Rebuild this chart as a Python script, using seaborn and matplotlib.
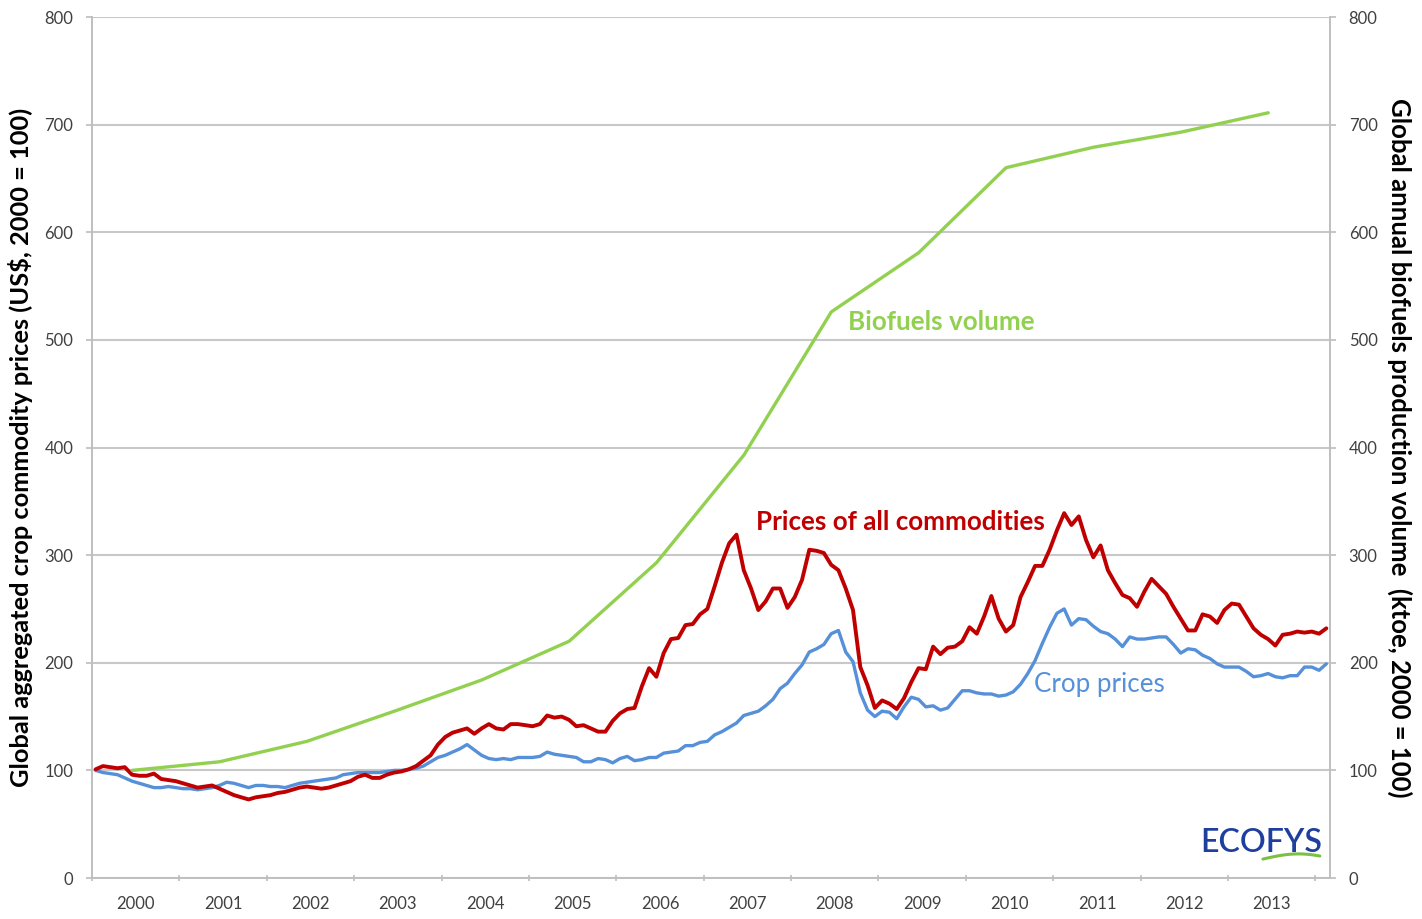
import numpy as np
import pandas as pd
import matplotlib
matplotlib.use("Agg")
import matplotlib.pyplot as plt
import seaborn as sns

# ---------------------------------------------------------
# data, monthly Jan 2000 - Feb 2014
# ---------------------------------------------------------
all_commodities = [
    101, 104, 103, 102, 103, 96, 95, 95, 97, 92, 91, 90,          # 2000
    88, 86, 84, 85, 86, 83, 80, 77, 75, 73, 75, 76,                # 2001
    77, 79, 80, 82, 84, 85, 84, 83, 84, 86, 88, 90,                # 2002
    94, 96, 93, 93, 96, 98, 99, 101, 104, 109, 114, 124,           # 2003
    131, 135, 137, 139, 134, 139, 143, 139, 138, 143, 143, 142,    # 2004
    141, 143, 151, 149, 150, 147, 141, 142, 139, 136, 136, 146,    # 2005
    153, 157, 158, 178, 195, 187, 209, 222, 223, 235, 236, 245,    # 2006
    250, 271, 293, 311, 319, 286, 269, 249, 257, 269, 269, 251,    # 2007
    261, 277, 305, 304, 302, 291, 286, 269, 249, 196, 179, 158,    # 2008
    165, 162, 157, 167, 182, 195, 194, 215, 208, 214, 215, 220,    # 2009
    233, 227, 243, 262, 241, 229, 235, 261, 275, 290, 290, 305,    # 2010
    323, 339, 328, 336, 314, 298, 309, 286, 274, 263, 260, 252,    # 2011
    266, 278, 271, 264, 252, 241, 230, 230, 245, 243, 237, 249,    # 2012
    255, 254, 243, 232, 226, 222, 216, 226, 227, 229, 228, 229,    # 2013
    227, 232,                                                      # 2014
]
crop_prices = [
    100, 98, 97, 96, 93, 90, 88, 86, 84, 84, 85, 84,               # 2000
    83, 83, 82, 83, 84, 86, 89, 88, 86, 84, 86, 86,                # 2001
    85, 85, 84, 86, 88, 89, 90, 91, 92, 93, 96, 97,                # 2002
    98, 98, 98, 98, 99, 100, 100, 101, 102, 104, 108, 112,         # 2003
    114, 117, 120, 124, 119, 114, 111, 110, 111, 110, 112, 112,    # 2004
    112, 113, 117, 115, 114, 113, 112, 108, 108, 111, 110, 107,    # 2005
    111, 113, 109, 110, 112, 112, 116, 117, 118, 123, 123, 126,    # 2006
    127, 133, 136, 140, 144, 151, 153, 155, 160, 166, 176, 181,    # 2007
    190, 198, 210, 213, 217, 227, 230, 210, 201, 172, 156, 150,    # 2008
    155, 154, 148, 159, 168, 166, 159, 160, 156, 158, 166, 174,    # 2009
    174, 172, 171, 171, 169, 170, 173, 180, 190, 202, 218, 233,    # 2010
    246, 250, 235, 241, 240, 234, 229, 227, 222, 215, 224, 222,    # 2011
    222, 223, 224, 224, 217, 209, 213, 212, 207, 204, 199, 196,    # 2012
    196, 196, 192, 187, 188, 190, 187, 186, 188, 188, 196, 196,    # 2013
    193, 199,                                                      # 2014
]
biofuel_years = list(range(2000, 2014))
biofuels_volume = [100, 108, 127, 155, 184, 220, 293, 393, 526, 581, 660, 679, 693, 711]
year_labels = [str(y) for y in range(2000, 2014)]

# ---------------------------------------------------------
# style
# ---------------------------------------------------------
sns.set_theme(style="white")
plt.rcParams['font.family'] = ['Lato', 'DejaVu Sans']

RED = '#c00000'
BLUE = '#5590d9'
GREEN = '#92d050'
GRID = '#c8c8c8'
TICK_TXT = '#404040'

n = len(all_commodities)
months = 2000 + (np.arange(n) + 0.5) / 12
prices = pd.DataFrame({'t': months, 'all': all_commodities, 'crop': crop_prices})
bio = pd.DataFrame({'t': np.array(biofuel_years) + 0.46, 'vol': biofuels_volume})

fig = plt.figure(figsize=(14.22, 9.19), dpi=100)
ax = fig.add_axes([0.0647, 0.0446, 0.8706, 0.9369])
ax2 = ax.twinx()

sns.lineplot(data=prices, x='t', y='crop', color=BLUE, linewidth=2.4, ax=ax)
sns.lineplot(data=prices, x='t', y='all', color=RED, linewidth=2.8, ax=ax)
sns.lineplot(data=bio, x='t', y='vol', color=GREEN, linewidth=2.4, ax=ax2)

x_end = 2000 + n / 12
for a in (ax, ax2):
    a.set_xlim(2000, x_end)
    a.set_ylim(0, 800)
    a.set_yticks(range(0, 801, 100))
    for s in a.spines.values():
        s.set_color('#bfbfbf')
        s.set_linewidth(1.2)
    a.spines['top'].set_visible(False)

ax.yaxis.grid(True, color=GRID, linewidth=1.5)
ax.set_axisbelow(True)
ax2.grid(False)

ax.tick_params(axis='y', which='both', left=True, length=4.5, color='#bfbfbf',
               labelsize=12, labelcolor=TICK_TXT, pad=9)
ax2.tick_params(axis='y', right=True, length=4.5, color='#bfbfbf',
                labelsize=12, labelcolor=TICK_TXT, pad=9)

# year boundaries as ticks, labels centred in each year
ax.set_xticks(np.arange(2000, 2015), labels=[''] * 15)
ax.set_xticks(np.arange(2000, 2014) + 0.5, labels=year_labels, minor=True)
ax.tick_params(axis='x', which='major', bottom=True, length=5, color='#bfbfbf', direction='inout')
ax.tick_params(axis='x', which='minor', bottom=True, length=0, labelsize=12,
               labelcolor=TICK_TXT, pad=13)

ax.set_xlabel('')
ax.set_ylabel('Global aggregated crop commodity prices (US$, 2000 = 100)',
              fontsize=18.3, fontweight='bold', color='black', va='center')
ax.yaxis.set_label_coords(-0.058, 0.5)
ax2.set_ylabel('Global annual biofuels production volume  (ktoe, 2000 = 100)',
               fontsize=18.5, fontweight='bold', color='black', rotation=-90, va='center')
ax2.yaxis.set_label_coords(1.0566, 0.5)

# series labels
ax2.text(2008.65, 517, 'Biofuels volume', color=GREEN, fontsize=18.7, fontweight='bold',
         ha='left', va='center')
ax.text(2007.6, 331, 'Prices of all commodities', color=RED, fontsize=18.7, fontweight='bold',
        ha='left', va='center')
ax.text(2010.78, 180, 'Crop prices', color=BLUE, fontsize=18.7, ha='left', va='center')

# ECOFYS logo
ax.text(0.9935, 0.0407, 'ECOFYS', transform=ax.transAxes, color='#1f3f9f', fontsize=23,
        fontweight='semibold', ha='right', va='center')
tt = np.linspace(0, 1, 40)
sx = 0.9458 + 0.046 * tt
sy = 0.022 + 0.006 * np.sin(np.pi * tt * 0.8)
ax.plot(sx, sy, transform=ax.transAxes, color='#7ac143', linewidth=2.2, solid_capstyle='round')

fig.savefig('out.png', dpi=100)
